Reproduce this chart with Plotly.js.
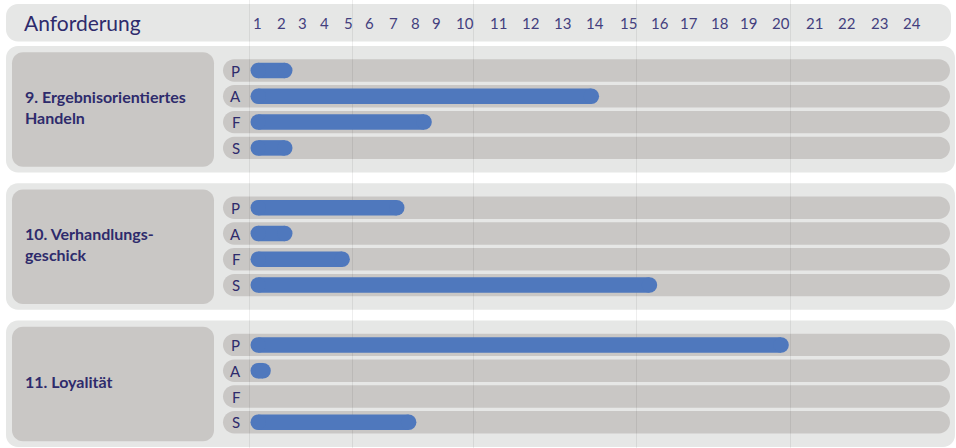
<!DOCTYPE html>
<html>
<head>
<meta charset="utf-8">
<script src="https://cdn.plot.ly/plotly-3.0.1.min.js"></script>
<style>
  html, body { margin: 0; padding: 0; background: #ffffff; }
  #chart { width: 956px; height: 448px; }
</style>
</head>
<body>
<div id="chart"></div>
<script>
// ---------- data ----------
const headerTitle = "Anforderung";
const groupLabels = ["9. Ergebnisorientiertes<br>Handeln", "10. Verhandlungs-<br>geschick", "11. Loyalität"];
const rowLetters = ["P", "A", "F", "S"];
const valuesGroup9  = [6.0, 49.8, 25.9, 6.0];
const valuesGroup10 = [22.0, 6.0, 14.2, 58.1];
const valuesGroup11 = [76.9, 2.9, 0, 23.7];
const tickLabels = ["1","2","3","4","5","6","7","8","9","10","11","12","13","14","15","16","17","18","19","20","21","22","23","24"];
const tickValues = [0.93, 4.36, 7.36, 10.64, 13.93, 17.0, 20.36, 23.64, 26.64, 30.64, 35.36, 39.93, 44.64, 49.21, 53.93, 58.5, 62.64, 66.93, 71.21, 75.79, 80.5, 85.21, 89.79, 94.5];
const gridValues = [-0.2, 14.64, 31.79, 55.21, 77.21];

// ---------- layout constants ----------
const W = 956, H = 448;
const PX_PER_UNIT = 7;       // horizontal scale
const ORIGIN_PX = 250.5;     // pixel where value 0 sits
const xMin = -ORIGIN_PX / PX_PER_UNIT;
const xMax = (W - ORIGIN_PX) / PX_PER_UNIT;
const FIRST_ROW = 70.5, GROUP_STEP = 137.2, ROW_STEP = 25.8;
const BAR_H = 15.5, TRACK_H = 22.4;
const NAVY = "#2e2b6c", TICK_COLOR = "#433f7e", BLUE = "#4f78bd";
const PANEL = "#e6e7e6", BOX = "#c9c7c5";
const FONT = "Lato, 'Open Sans', sans-serif";

const groupValues = [valuesGroup9, valuesGroup10, valuesGroup11];

const px = v => v / W;
const py = v => 1 - v / H;
function roundRect(x0, y0, x1, y1, r) {
  const k = 0.5523 * r;
  const P = (x, y) => px(x).toFixed(5) + "," + py(y).toFixed(5);
  return "M" + P(x0 + r, y0) +
    " L" + P(x1 - r, y0) +
    " C" + P(x1 - r + k, y0) + " " + P(x1, y0 + r - k) + " " + P(x1, y0 + r) +
    " L" + P(x1, y1 - r) +
    " C" + P(x1, y1 - r + k) + " " + P(x1 - r + k, y1) + " " + P(x1 - r, y1) +
    " L" + P(x0 + r, y1) +
    " C" + P(x0 + r - k, y1) + " " + P(x0, y1 - r + k) + " " + P(x0, y1 - r) +
    " L" + P(x0, y0 + r) +
    " C" + P(x0, y0 + r - k) + " " + P(x0 + r - k, y0) + " " + P(x0 + r, y0) + " Z";
}
function shape(path, color) {
  return { type: "path", xref: "paper", yref: "paper", path: path,
           fillcolor: color, line: { width: 0 }, layer: "below" };
}

const shapes = [];
const annotations = [];
const traces = [];

// header
shapes.push(shape(roundRect(6, 4, 951, 41.5, 12), PANEL));
annotations.push({ xref: "paper", yref: "paper", x: px(22), y: py(23), xanchor: "left", yanchor: "middle",
  text: headerTitle, showarrow: false, font: { family: FONT, size: 21, color: NAVY } });
tickLabels.forEach((t, i) => {
  annotations.push({ xref: "x", yref: "paper", x: tickValues[i], y: py(23), xanchor: "center", yanchor: "middle",
    text: t, showarrow: false, font: { family: FONT, size: 15, color: TICK_COLOR } });
});

const rU = (BAR_H / 2) / PX_PER_UNIT;
groupLabels.forEach((label, g) => {
  const g0 = FIRST_ROW + g * GROUP_STEP;
  shapes.push(shape(roundRect(6, g0 - 24.5, 955, g0 + 102, 12), PANEL));
  shapes.push(shape(roundRect(12, g0 - 18.2, 214, g0 + 96.3, 11), BOX));
  annotations.push({ xref: "paper", yref: "paper", x: px(23), y: py(g0 + 36.5), xanchor: "left", yanchor: "middle",
    align: "left", text: "<b>" + label + "</b>", showarrow: false,
    font: { family: FONT, size: 16, color: NAVY } });
  rowLetters.forEach((letter, r) => {
    const yc = g0 + r * ROW_STEP;
    shapes.push(shape(roundRect(223, yc - TRACK_H / 2, 950, yc + TRACK_H / 2, TRACK_H / 2), BOX));
    annotations.push({ xref: "paper", yref: "y", x: px(235.5), y: yc, xanchor: "center", yanchor: "middle",
      text: letter, showarrow: false, font: { family: FONT, size: 15, color: NAVY } });
    const v = groupValues[g][r];
    if (v <= 0) return;
    let xs, mode;
    if (v * PX_PER_UNIT >= BAR_H) { xs = [rU, v - rU]; mode = "lines+markers"; }
    else { xs = [v / 2]; mode = "markers"; }
    traces.push({
      type: "scatter", mode: mode, x: xs, y: xs.map(() => yc),
      line: { color: BLUE, width: BAR_H },
      marker: { color: BLUE, size: BAR_H, symbol: "circle", line: { width: 0 } },
      hoverinfo: "skip", showlegend: false, cliponaxis: false
    });
  });
});

const layout = {
  width: W, height: H, autosize: false,
  margin: { l: 0, r: 0, t: 0, b: 0, pad: 0 },
  paper_bgcolor: "#ffffff", plot_bgcolor: "#ffffff",
  showlegend: false,
  xaxis: { range: [xMin, xMax], domain: [0, 1], fixedrange: true,
    tickmode: "array", tickvals: gridValues, showticklabels: false, ticks: "",
    showgrid: true, gridcolor: "rgba(0,0,0,0.065)", gridwidth: 1,
    zeroline: false, showline: false },
  yaxis: { range: [H, 0], domain: [0, 1], fixedrange: true,
    showticklabels: false, ticks: "", showgrid: false, zeroline: false, showline: false },
  shapes: shapes,
  annotations: annotations
};

Plotly.newPlot("chart", traces, layout, { displayModeBar: false, staticPlot: true });
</script>
</body>
</html>
